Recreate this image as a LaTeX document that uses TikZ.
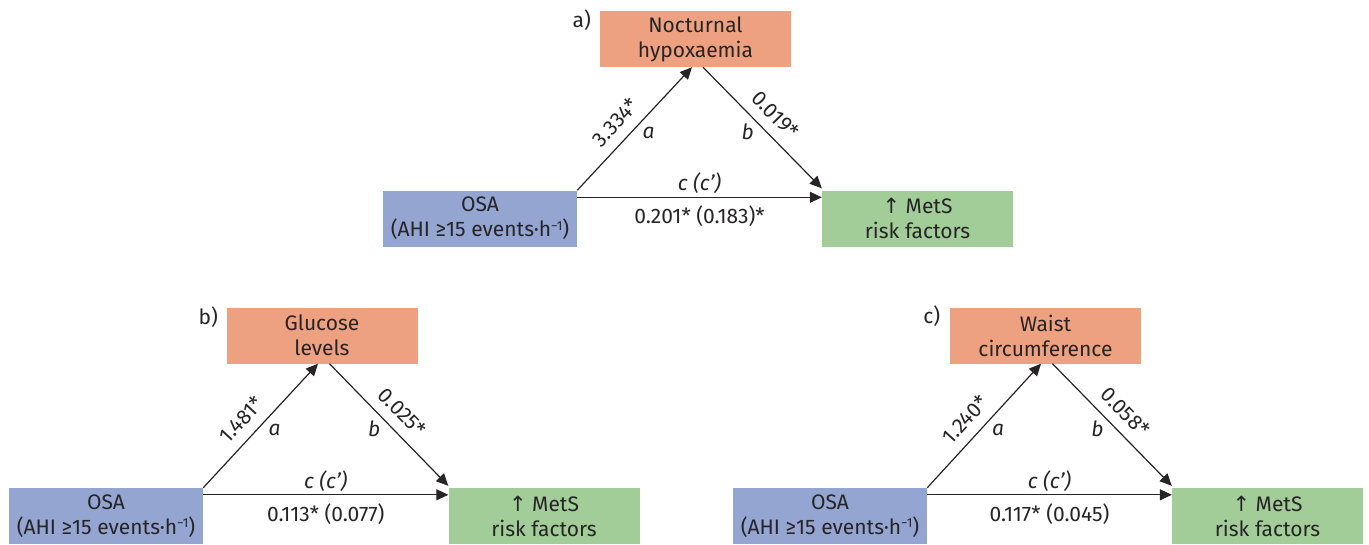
\documentclass[tikz,border=0pt]{standalone}
\usepackage{fontspec}
\setmainfont{Fira Sans}
\newfontfamily\symfont{DejaVu Sans}
\usetikzlibrary{arrows.meta,calc}
\definecolor{medc}{RGB}{238,161,128}
\definecolor{osac}{RGB}{148,165,210}
\definecolor{metc}{RGB}{162,205,153}
\definecolor{txt}{RGB}{38,36,37}
\newcommand{\supm}{{\fontsize{13}{13}\selectfont\raisebox{6.5pt}{−1}}}
\begin{document}
\begin{tikzpicture}[x=1pt,y=1pt,
  box/.style={minimum width=191pt, minimum height=56pt, inner sep=0pt, align=center,
              font=\fontsize{21}{25}\selectfont, text=txt},
  medbox/.style={box, fill=medc},
  osabox/.style={box, fill=osac, minimum width=194pt},
  metbox/.style={box, fill=metc},
  arr/.style={draw=txt, line width=1.2pt, -{Triangle[length=12pt,width=11pt]}},
  lab/.style={inner sep=0pt, font=\fontsize{21}{24}\selectfont, text=txt},
  ital/.style={inner sep=0pt, font=\fontsize{21}{24}\selectfont\itshape, text=txt},
]
\useasboundingbox (0,0) rectangle (1369,-544);

% ---------- panel a ----------
\node[medbox] (ma) at (695.5,-39) {Nocturnal\\hypoxaemia};
\node[osabox] (oa) at (480,-218.5) {OSA\\(AHI ≥15 events·h\supm)};
\node[metbox] (ea) at (917.5,-218.5) {{\symfont ↑} MetS\\risk factors};
\node[lab] (pa) at ([xshift=-18pt,yshift=-9pt]ma.north west) {a)};
\coordinate (ta) at ([xshift=-3.5pt]ma.south);
\coordinate (sa) at ([xshift=7.5pt]ma.south);
\coordinate (ca) at ([yshift=-7pt]oa.north east);
\draw[arr] (oa.north east) -- (ta)
  node[lab, pos=.45, sloped, above=10pt] {3.334*}
  node[ital, pos=.535, xshift=10pt, yshift=-9pt] {a};
\draw[arr] (sa) -- ([yshift=2pt]ea.north west)
  node[lab, pos=.5, sloped, above=10pt] {0.019*}
  node[ital, pos=.46, xshift=-10pt, yshift=-9pt] {b};
\draw[arr] (ca) -- (ca -| ea.west)
  node[ital, midway, yshift=14pt] {c (c')}
  node[lab, midway, yshift=-19pt] {0.201* (0.183)*};

% ---------- panel b ----------
\node[medbox] (mb) at (322,-335.5) {Glucose\\levels};
\node[osabox] (ob) at (106,-516) {OSA\\(AHI ≥15 events·h\supm)};
\node[metbox] (eb) at (544,-516) {{\symfont ↑} MetS\\risk factors};
\node[lab] (pb) at ([xshift=-18pt,yshift=-10pt]mb.north west) {b)};
\coordinate (tb) at ([xshift=-4pt]mb.south);
\coordinate (sb) at ([xshift=7.5pt]mb.south);
\coordinate (cb) at ([yshift=-7pt]ob.north east);
\draw[arr] (ob.north east) -- (tb)
  node[lab, pos=.45, sloped, above=10pt] {1.481*}
  node[ital, pos=.535, xshift=10pt, yshift=-9pt] {a};
\draw[arr] (sb) -- ([yshift=2pt]eb.north west)
  node[lab, pos=.5, sloped, above=10pt] {0.025*}
  node[ital, pos=.46, xshift=-10pt, yshift=-9pt] {b};
\draw[arr] (cb) -- (cb -| eb.west)
  node[ital, midway, yshift=14pt] {c (c')}
  node[lab, midway, yshift=-19pt] {0.113* (0.077)};

% ---------- panel c ----------
\node[medbox] (mc) at (1045.5,-335.5) {Waist\\circumference};
\node[osabox] (oc) at (830,-516) {OSA\\(AHI ≥15 events·h\supm)};
\node[metbox] (ec) at (1267.5,-516) {{\symfont ↑} MetS\\risk factors};
\node[lab] (pc) at ([xshift=-18pt,yshift=-9pt]mc.north west) {c)};
\coordinate (tc) at ([xshift=-4.5pt]mc.south);
\coordinate (sc) at ([xshift=7pt]mc.south);
\coordinate (cc) at ([yshift=-7pt]oc.north east);
\draw[arr] (oc.north east) -- (tc)
  node[lab, pos=.45, sloped, above=10pt] {1.240*}
  node[ital, pos=.535, xshift=10pt, yshift=-9pt] {a};
\draw[arr] (sc) -- ([yshift=2pt]ec.north west)
  node[lab, pos=.5, sloped, above=10pt] {0.058*}
  node[ital, pos=.46, xshift=-10pt, yshift=-9pt] {b};
\draw[arr] (cc) -- (cc -| ec.west)
  node[ital, midway, yshift=14pt] {c (c')}
  node[lab, midway, yshift=-19pt] {0.117* (0.045)};
\end{tikzpicture}
\end{document}
